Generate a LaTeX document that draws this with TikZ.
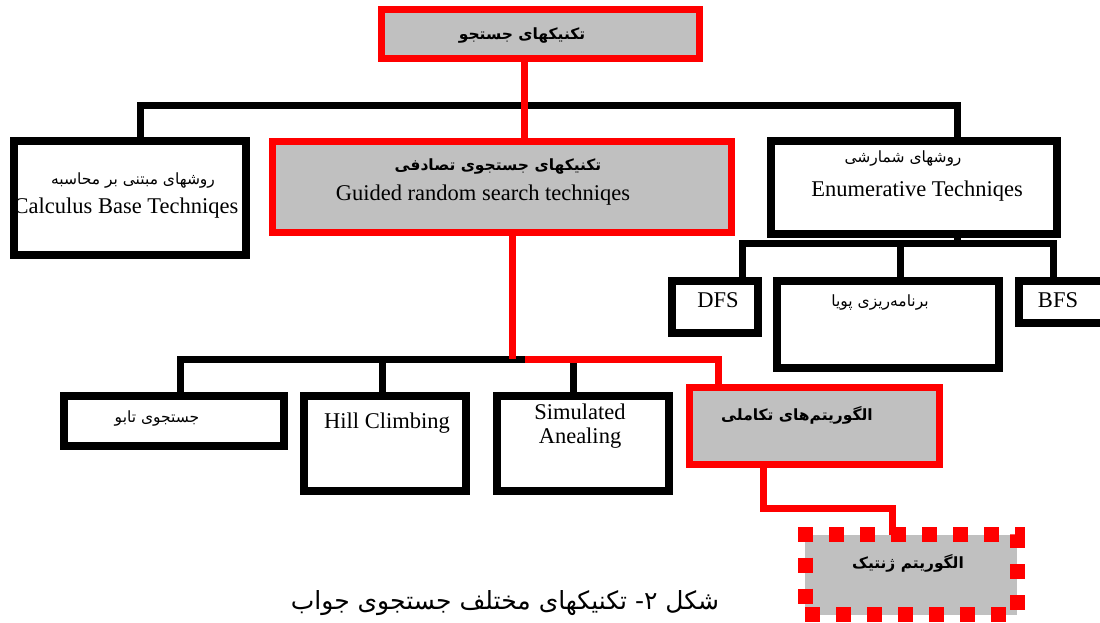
\documentclass[tikz,border=0pt]{standalone}
\usepackage{fontspec}
\setmainfont{Liberation Serif}
\newfontfamily\fa[Script=Arabic]{DejaVu Sans}
\TeXXeTstate=1
\definecolor{boxgray}{HTML}{C0C0C0}
\definecolor{pred}{HTML}{FF0000}
\tikzset{
  blackbox/.style={draw=black, line width=8pt, fill=white, rectangle, inner sep=0pt, outer sep=0pt},
  redbox/.style={draw=pred, line width=7pt, fill=boxgray, rectangle, inner sep=0pt, outer sep=0pt},
  dotbox/.style={draw=pred, line width=15pt, dash pattern=on 15pt off 16pt, fill=boxgray, rectangle, inner sep=0pt, outer sep=0pt},
  blackline/.style={draw=black, line width=7pt, line join=miter},
  redline/.style={draw=pred, line width=7pt, line join=miter},
  en/.style={inner sep=0pt, font=\fontsize{22.5}{26}\selectfont},
  fatxt/.style={inner sep=0pt, font=\fa\fontsize{15.5}{18}\selectfont},
  fabold/.style={inner sep=0pt, font=\fa\bfseries\fontsize{15.5}{18}\selectfont},
}
\begin{document}
\begin{tikzpicture}[x=1pt,y=-1pt]
\clip (0,0) rectangle (1100,622);
\fill[white] (0,0) rectangle (1100,622);
% boxes
\node[redbox, minimum width=318pt, minimum height=49pt] (top) at (540,33.5) {};
\node[blackbox, minimum width=232pt, minimum height=114pt] (calc) at (130,198) {};
\node[redbox, minimum width=459pt, minimum height=91pt] (guided) at (501.5,186.5) {};
\node[blackbox, minimum width=286pt, minimum height=93pt] (enum) at (914,187.5) {};
\node[blackbox, minimum width=86pt, minimum height=52pt] (dfs) at (715,307) {};
\node[blackbox, minimum width=222pt, minimum height=87pt] (dyn) at (888,324.5) {};
\node[blackbox, minimum width=90pt, minimum height=42pt] (bfs) at (1064,302) {};
\node[blackbox, minimum width=220pt, minimum height=50pt] (tabu) at (174,421) {};
\node[blackbox, minimum width=162pt, minimum height=95pt] (hill) at (385,443.5) {};
\node[blackbox, minimum width=172pt, minimum height=95pt] (sa) at (583,443.5) {};
\node[redbox, minimum width=250pt, minimum height=77pt] (evol) at (814,425.5) {};
\node[dotbox, minimum width=212pt, minimum height=80pt] (gen) at (911,574.5) {};
% connectors
\coordinate (b1) at (140,105);
\coordinate (b2) at (957,105);
\draw[blackline] (b1 |- calc.north) -- (b1) -- (b2) -- (b2 |- enum.north);
\coordinate (rt) at (524,105);
\draw[redline] (rt |- top.south) -- (rt |- guided.north);
\coordinate (e1) at (742,243);
\coordinate (e2) at (1053,243);
\coordinate (e0) at (957,243);
\draw[blackline] (e0 |- enum.south) -- (e0);
\draw[blackline] (e1 |- dfs.north) -- (e1) -- (e2) -- (e2 |- bfs.north);
\coordinate (e3) at (900,243);
\draw[blackline] (e3) -- (e3 |- dyn.north);
\coordinate (l1) at (180,359);
\coordinate (lm) at (525,359);
\coordinate (l2) at (718,359);
\coordinate (gv) at (512,359);
\draw[blackline] (l1 |- tabu.north) -- (l1) -- (lm);
\coordinate (l3) at (382,359);
\coordinate (l4) at (573,359);
\draw[blackline] (l3) -- (l3 |- hill.north);
\draw[blackline] (l4) -- (l4 |- sa.north);
\draw[redline] (gv |- guided.south) -- (gv);
\draw[redline] (lm) -- (l2) -- (l2 |- evol.north);
\coordinate (g1) at (763,508);
\coordinate (g2) at (892,508);
\draw[redline] (g1 |- evol.south) -- (g1) -- (g2) -- (g2 |- gen.north);
% texts
\node[fabold] (ttop) at (522,36) {\beginR تکنیکهای جستجو\endR};
\node[fatxt] (tcalc1) at (133,180) {\beginR روشهای مبتنی بر محاسبه\endR};
\node[en] (tcalc2) at (126,208) {Calculus Base Techniqes};
\node[fabold] (tguid1) at (498,167) {\beginR تکنیکهای جستجوی تصادفی\endR};
\node[en] (tguid2) at (483,195) {Guided random search techniqes};
\node[fatxt] (tenum1) at (903,158) {\beginR روشهای شمارشی\endR};
\node[en] (tenum2) at (917,191) {Enumerative Techniqes};
\node[en] (tdfs) at (718,300) {DFS};
\node[fatxt] (tdyn) at (880,302) {\beginR برنامه‌ریزی پویا\endR};
\node[en] (tbfs) at (1058,300) {BFS};
\node[fatxt] (ttabu) at (157,418) {\beginR جستجوی تابو\endR};
\node[en] (thill) at (387,423) {Hill Climbing};
\node[en] (tsa1) at (580,412) {Simulated};
\node[en] (tsa2) at (580,438) {Anealing};
\node[fabold] (tevol) at (797,415) {\beginR الگوریتم‌های تکاملی\endR};
\node[fabold] (tgen) at (908,563) {\beginR الگوریتم ژنتیک\endR};
\node[inner sep=0pt, font=\fa\fontsize{25}{29}\selectfont] (cap) at (505,603) {\beginR شکل ۲- تکنیکهای  مختلف جستجوی جواب\endR};
\end{tikzpicture}
\end{document}
